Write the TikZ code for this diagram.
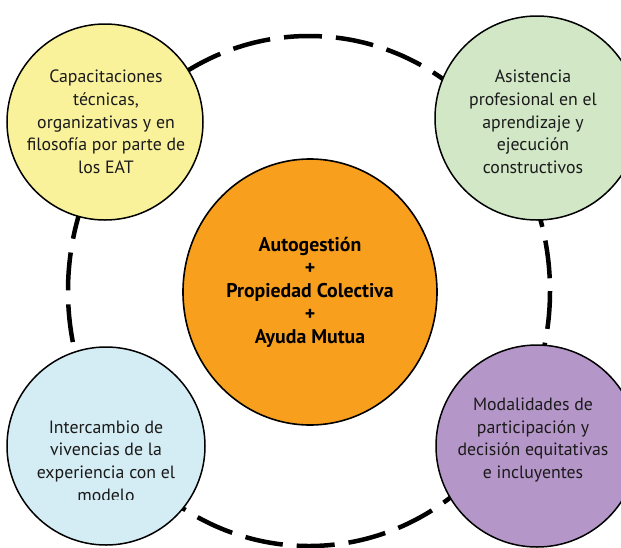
\documentclass[tikz,border=0pt]{standalone}
\usepackage{fontspec}
\setmainfont{PT Sans}
\usetikzlibrary{shapes.geometric}
\definecolor{cyellow}{HTML}{F9F29B}
\definecolor{cgreen}{HTML}{D1E7C6}
\definecolor{cblue}{HTML}{D4ECF3}
\definecolor{cpurple}{HTML}{B596C8}
\definecolor{corange}{HTML}{F8A01E}
\definecolor{ctext}{HTML}{1A1A1A}
\tikzset{
  sat/.style={circle, draw=black, line width=1.5pt, inner sep=0pt},
  txt/.style={align=center, text=ctext, font=\fontsize{17.8}{22.7}\selectfont},
  hub/.style={ellipse, draw=black, line width=1.6pt, fill=corange, inner sep=0pt,
    align=center, font=\bfseries\fontsize{19.8}{23}\selectfont},
  ring/.style={line width=4.5pt, dash pattern=on 38pt off 14pt}
}
\begin{document}
\begin{tikzpicture}[x=1pt,y=-1pt]
\useasboundingbox (0,0) rectangle (621,547);
\clip (0,0) rectangle (621,547);
\coordinate (ringc) at (309,291);
\draw[ring] (ringc) ellipse [x radius=241, y radius=255];
\node[hub, minimum width=254pt, minimum height=266pt] (hub) at (310,292)
  {Autogestión\\+\\Propiedad Colectiva\\+\\Ayuda Mutua};
\node[sat, fill=cyellow, minimum size=196pt] (yellow) at (105,122) {};
\node[txt] (yellowtext) at (106,122)
  {Capacitaciones\\técnicas,\\organizativas y en\\filosofía por parte de\\los EAT};
\node[sat, fill=cgreen, minimum size=204pt] (green) at (537,118) {};
\node[txt] (greentext) at (533,122)
  {Asistencia\\profesional en el\\aprendizaje y\\ejecución\\constructivos};
\node[sat, fill=cblue, minimum size=198pt] (blue) at (106,446) {};
\begin{scope}
\clip (0,0) rectangle (621,499);
\node[txt] (bluetext) at (106,461)
  {Intercambio de\\vivencias de la\\experiencia con el\\modelo};
\end{scope}
\node[sat, fill=cpurple, minimum size=202pt] (purple) at (537,446) {};
\node[txt] (purpletext) at (533,440)
  {Modalidades de\\participación y\\decisión equitativas\\e incluyentes};
\end{tikzpicture}
\end{document}
